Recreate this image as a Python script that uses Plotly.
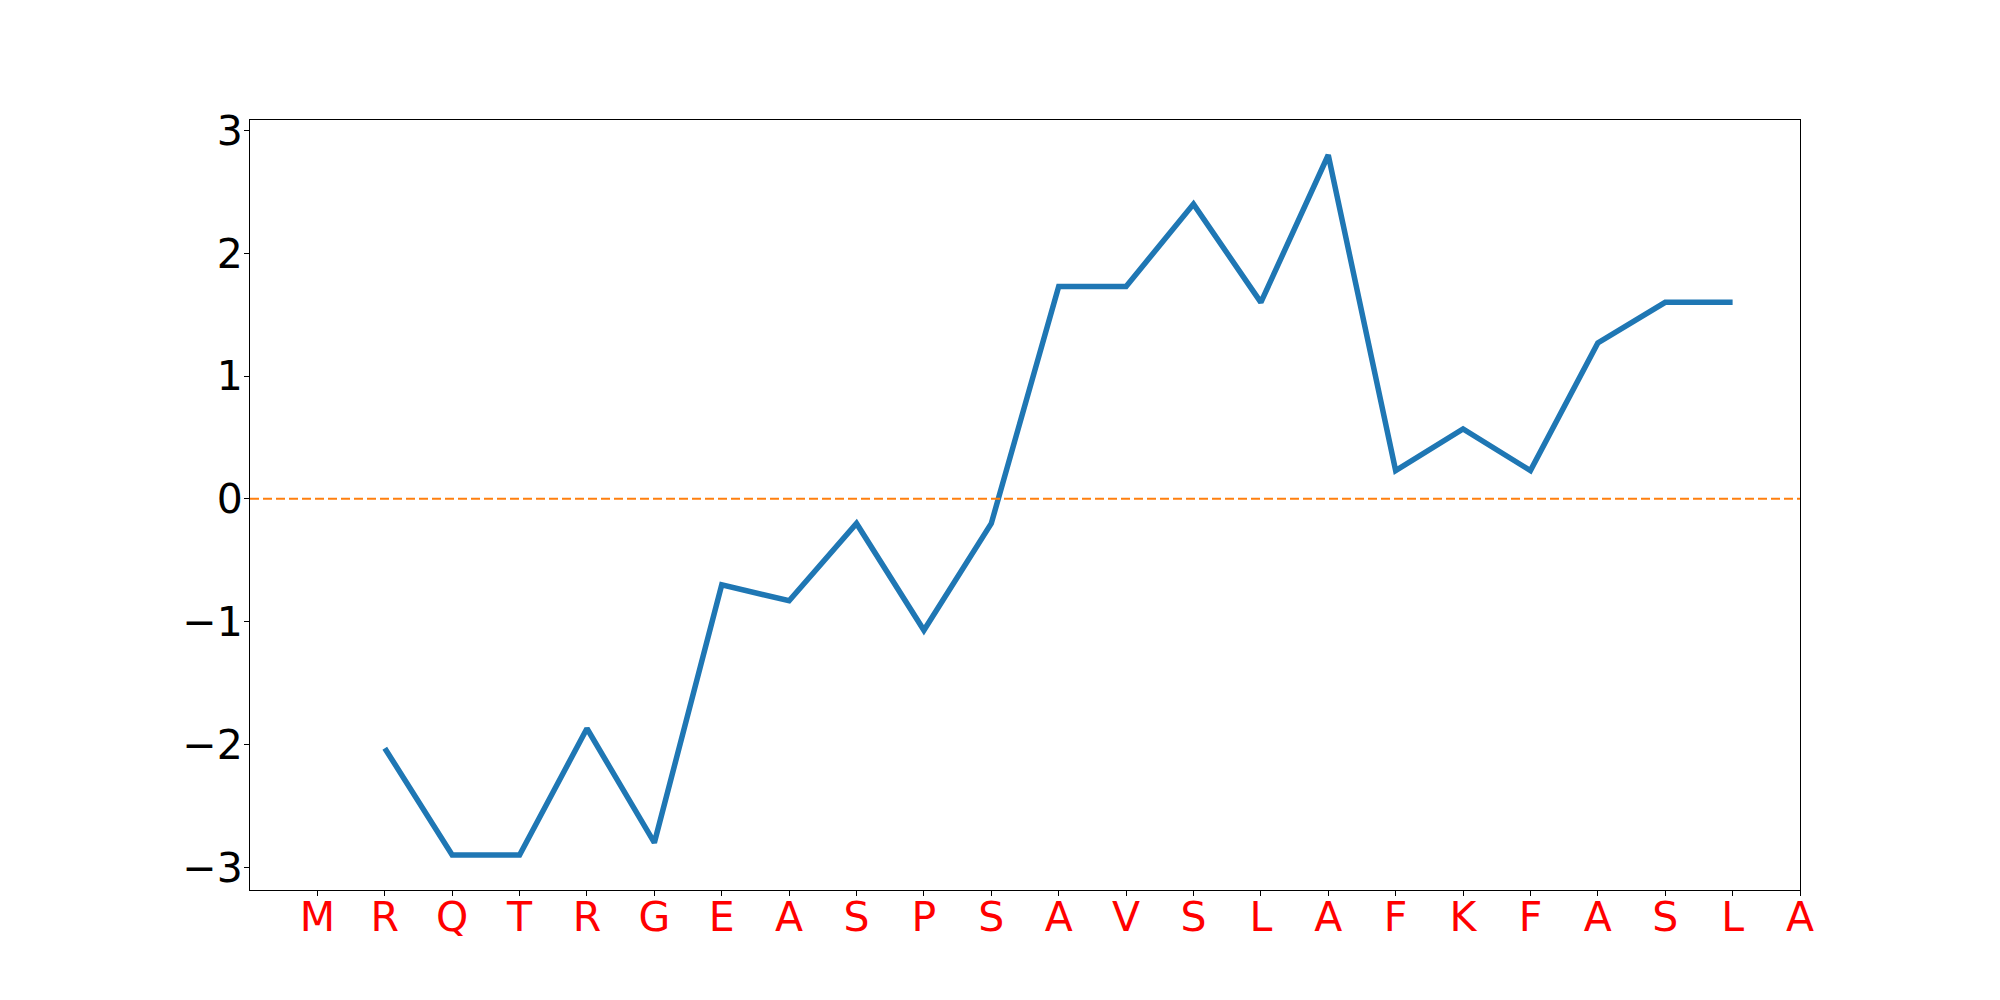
import plotly.graph_objects as go

# Sequence (x tick labels) and hydropathy profile values
residues = ["M", "R", "Q", "T", "R", "G", "E", "A", "S", "P", "S", "A",
            "V", "S", "L", "A", "F", "K", "F", "A", "S", "L", "A"]
positions = list(range(len(residues)))

profile_x = list(range(1, 22))
profile_y = [-2.03, -2.9, -2.9, -1.87, -2.8, -0.7, -0.83, -0.2, -1.07, -0.2,
             1.73, 1.73, 2.4, 1.6, 2.8, 0.23, 0.57, 0.23, 1.27, 1.6, 1.6]

y_ticks = [-3, -2, -1, 0, 1, 2, 3]
y_tick_text = [("\u2212" + str(abs(v))) if v < 0 else str(v) for v in y_ticks]

FONT = "DejaVu Sans"

fig = go.Figure()
fig.add_trace(go.Scatter(
    x=profile_x, y=profile_y, mode="lines",
    line=dict(color="#1f77b4", width=5.5),
    hoverinfo="skip", showlegend=False,
))

# zero reference line across the whole axes
fig.add_shape(type="line", xref="paper", yref="y", x0=0, x1=1, y0=0, y1=0,
              line=dict(color="#ff7f0e", width=2, dash="9px,4px"), layer="above")

fig.update_layout(
    width=2000, height=1000,
    margin=dict(l=242, r=208, t=112, b=118),
    paper_bgcolor="white", plot_bgcolor="white",
    showlegend=False,
    font=dict(family=FONT, size=41, color="black"),
)
fig.update_xaxes(
    range=[-1, 22], tickmode="array", tickvals=positions, ticktext=residues,
    tickfont=dict(family=FONT, size=41, color="red"),
    showgrid=False, zeroline=False,
    showline=True, linecolor="black", linewidth=1, mirror=True,
    ticks="outside", ticklen=5, tickwidth=1, tickcolor="black",
    ticklabelstandoff=-14,
)
fig.update_yaxes(
    range=[-3.185, 3.085], tickmode="array", tickvals=y_ticks, ticktext=y_tick_text,
    tickfont=dict(family=FONT, size=41, color="black"),
    showgrid=False, zeroline=False,
    showline=True, linecolor="black", linewidth=1, mirror=True,
    ticks="outside", ticklen=5, tickwidth=1, tickcolor="black",
    ticklabelstandoff=-7,
)

fig.write_html("out.html", config={"displayModeBar": False})
